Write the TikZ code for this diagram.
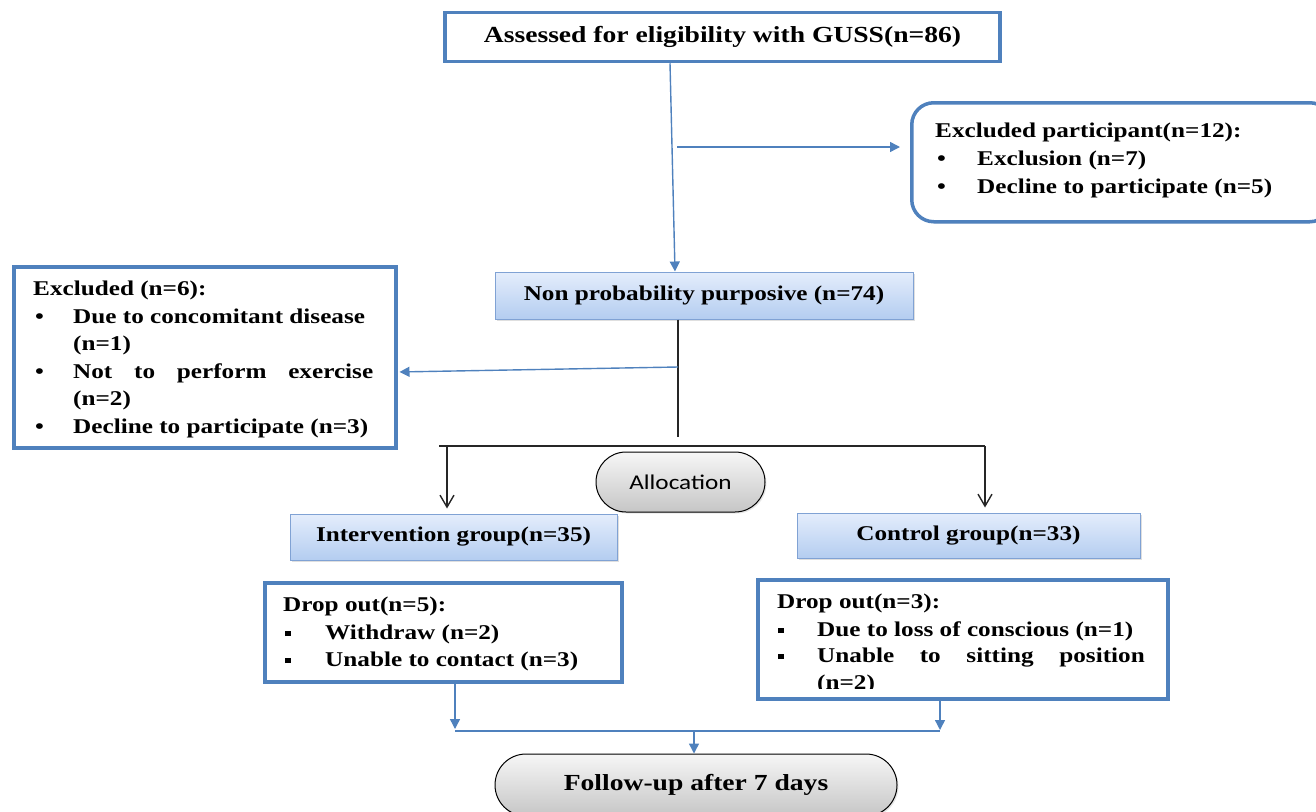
\documentclass[tikz,border=0pt]{standalone}
\usepackage{fontspec}
\setmainfont{Liberation Serif}
\newfontfamily\calfont{Carlito}
\usepackage{graphicx}
\usetikzlibrary{arrows.meta,shadows,calc}
\definecolor{bbl}{RGB}{79,129,189}
\definecolor{gtop}{RGB}{228,237,252}
\definecolor{gbot}{RGB}{180,205,240}
\definecolor{gbord}{RGB}{128,162,212}
\definecolor{ytop}{RGB}{246,246,246}
\definecolor{ybot}{RGB}{198,198,198}
\newcommand\stretchx[1]{\scalebox{1.2}[1]{#1}}
\newcommand\sqbul{\stretchx{\raisebox{3pt}{\rule{4.5pt}{5.5pt}}}}
\begin{document}
\begin{tikzpicture}[x=1pt,y=-1pt,
 bluebox/.style={draw=bbl, line width=3.5pt, fill=white, inner sep=0pt,
   drop shadow={opacity=0.18,shadow xshift=1.5pt,shadow yshift=-1.5pt}},
 gradbox/.style={draw=gbord, line width=1pt, top color=gtop, bottom color=gbot, inner sep=0pt,
   drop shadow={opacity=0.25,shadow xshift=2pt,shadow yshift=-2pt}},
 pill/.style={draw=black, line width=1pt, top color=ytop, bottom color=ybot, inner sep=0pt,
   drop shadow={opacity=0.2,shadow xshift=1.5pt,shadow yshift=-1.5pt}},
 ln/.style={anchor=base west, inner sep=0pt, font=\fontsize{21}{25}\selectfont\bfseries},
 big/.style={font=\fontsize{23}{27}\selectfont\bfseries},
 mid/.style={font=\fontsize{21}{25}\selectfont\bfseries},
 barrow/.style={draw=bbl, line width=1.4pt, -{Triangle[length=10pt,width=10pt]}},
 bline/.style={draw=bbl, line width=1.4pt},
 kline/.style={draw=black!85, line width=1.4pt},
 karrow/.style={kline, -{Straight Barb[length=12pt,width=14pt]}},
]
\useasboundingbox (0,0) rectangle (1316,811);

% ---------- boxes ----------
\node[bluebox, big, minimum width=555pt, minimum height=49pt] (top) at (722.5,37)
  {\stretchx{Assessed for eligibility with GUSS(n=86)}};

\node[bluebox, rounded corners=22pt, minimum width=420pt, minimum height=119pt, anchor=north west]
  (exP) at (910,101) {};
\node[ln] (exPh) at (935,137) {\stretchx{Excluded participant(n=12):}};
\node[ln] (exPb1) at (937,165) {\stretchx{\textbullet}};
\node[ln] (exPt1) at (977,165) {\stretchx{Exclusion (n=7)}};
\node[ln] (exPb2) at (937,193) {\stretchx{\textbullet}};
\node[ln] (exPt2) at (977,193) {\stretchx{Decline to participate (n=5)}};

\node[gradbox, mid, minimum width=418pt, minimum height=47pt] (np) at (704,295.5)
  {\stretchx{Non probability purposive (n=74)}};

\node[bluebox, minimum width=382pt, minimum height=181pt, anchor=north west] (exL) at (12,265) {};
\node[ln] (exLh) at (33,295.5) {\stretchx{Excluded (n=6):}};
\node[ln] (exLb1) at (35,323) {\stretchx{\textbullet}};
\node[ln] (exLt1) at (73,323) {\stretchx{Due to concomitant disease}};
\node[ln] (exLt1b) at (73,350.5) {\stretchx{(n=1)}};
\node[ln] (exLb2) at (35,378) {\stretchx{\textbullet}};
\node[ln] (exLt2) at (73,378) {\stretchx{\makebox[250pt][s]{Not to perform exercise}}};
\node[ln] (exLt2b) at (73,405.5) {\stretchx{(n=2)}};
\begin{scope}
  \clip (14,267) rectangle (392,437);
  \node[ln] (exLb3) at (35,433) {\stretchx{\textbullet}};
  \node[ln] (exLt3) at (73,433) {\stretchx{Decline to participate (n=3)}};
\end{scope}

\node[pill, rounded corners=30pt, minimum width=169pt, minimum height=60pt] (alloc) at (680.5,482)
  {\calfont\fontsize{21}{25}\selectfont\stretchx{Allocation}};

\node[gradbox, mid, minimum width=327pt, minimum height=46pt] (iv) at (453.5,537)
  {\stretchx{Intervention group(n=35)}};
\node[gradbox, mid, minimum width=343pt, minimum height=45pt] (cg) at (968.5,535.5)
  {\stretchx{Control group(n=33)}};

\node[bluebox, minimum width=357pt, minimum height=99pt, anchor=north west] (dL) at (263,581) {};
\node[ln] (dLh) at (283,611) {\stretchx{Drop out(n=5):}};
\node[ln] (dLb1) at (285,639) {\sqbul};
\node[ln] (dLt1) at (325,639) {\stretchx{Withdraw (n=2)}};
\node[ln] (dLb2) at (285,666) {\sqbul};
\node[ln] (dLt2) at (325,666) {\stretchx{Unable to contact (n=3)}};

\node[bluebox, minimum width=410pt, minimum height=119pt, anchor=north west] (dR) at (756,578) {};
\node[ln] (dRh) at (777,608) {\stretchx{Drop out(n=3):}};
\node[ln] (dRb1) at (778,636) {\sqbul};
\node[ln] (dRt1) at (817,636) {\stretchx{Due to loss of conscious (n=1)}};
\node[ln] (dRb2) at (778,662) {\sqbul};
\node[ln] (dRt2) at (817,662) {\stretchx{\makebox[273pt][s]{Unable to sitting position}}};
\begin{scope}
  \clip (758,580) rectangle (1164,688);
  \node[ln] (dRt2b) at (817,689) {\stretchx{(n=2)}};
\end{scope}

\node[pill, big, rounded corners=31pt, minimum width=402pt, minimum height=62pt] (fu) at (696,785)
  {\stretchx{Follow-up after 7 days}};

% ---------- connectors ----------
\draw[barrow] (top.south -| 670,0) -- (np.north -| 675,0);
\coordinate (br1) at (677,147);
\draw[barrow, shorten >=10pt] (br1) -- (exP.west |- br1);

\coordinate (npb) at (678,437);
\draw[kline] (np.south -| npb) -- (npb);
\coordinate (br2) at (678,367);
\draw[barrow, shorten >=2pt] (br2) -- (exL.east |- 0,372);

\coordinate (sl) at (439,446);
\coordinate (sr) at (985,446);
\draw[kline] (sl) -- (sr);
\draw[karrow, shorten >=5pt] (447,446) -- (iv.north -| 447,0);
\draw[karrow, shorten >=5pt] (sr) -- (cg.north -| sr);

\coordinate (jl) at (455,731);
\coordinate (jr) at (940,731);
\draw[barrow, shorten >=2pt] (dL.south -| jl) -- (jl);
\draw[barrow, shorten >=1pt] (dR.south -| jr) -- (jr);
\draw[bline] (jl) -- (jr);
\draw[barrow] (694,731) -- (fu.north -| 694,0);
\end{tikzpicture}
\end{document}
